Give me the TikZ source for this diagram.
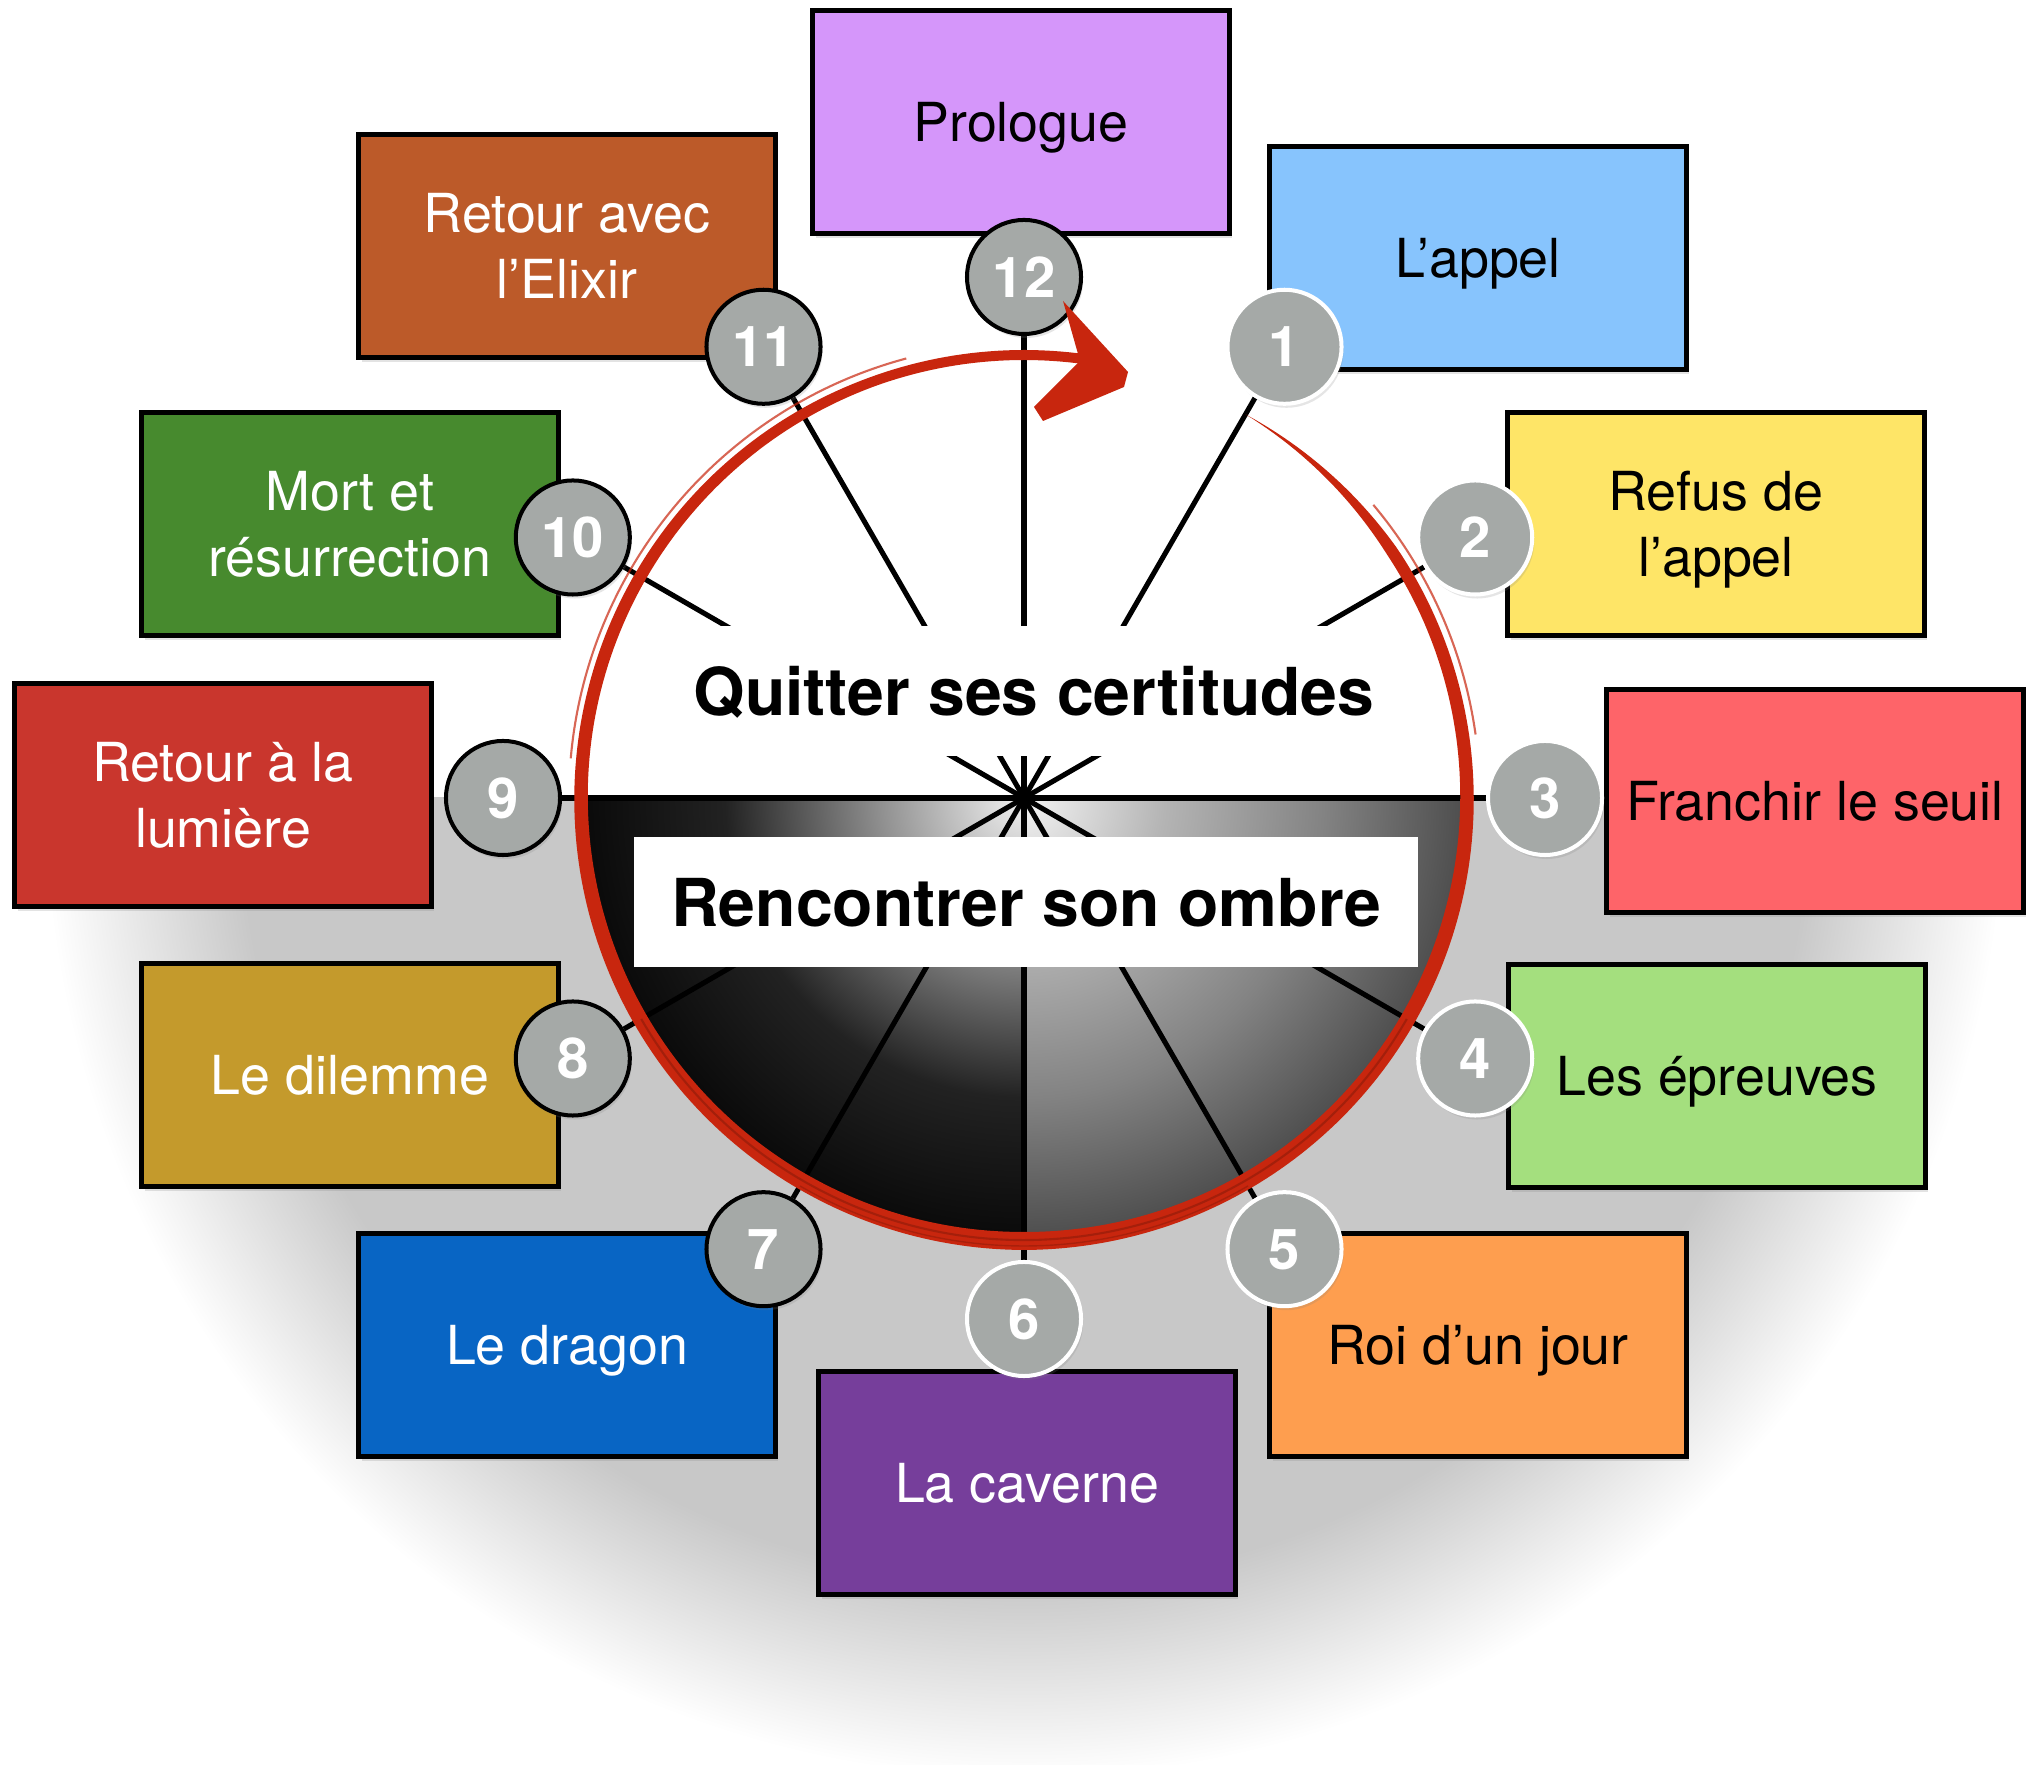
\documentclass[tikz,border=0pt]{standalone}
\usepackage{fontspec}
\setmainfont{TeX Gyre Heros}
\usetikzlibrary{shadows}
\definecolor{cProl}{HTML}{D596FA}
\definecolor{cAppel}{HTML}{87C4FD}
\definecolor{cRefus}{HTML}{FEE567}
\definecolor{cFran}{HTML}{FE6469}
\definecolor{cEpr}{HTML}{A4DF7E}
\definecolor{cRoi}{HTML}{FE9E4F}
\definecolor{cCav}{HTML}{763E9B}
\definecolor{cDrag}{HTML}{0865C4}
\definecolor{cDil}{HTML}{C49A2C}
\definecolor{cLum}{HTML}{C9362D}
\definecolor{cMort}{HTML}{478A2E}
\definecolor{cElix}{HTML}{BC5A29}
\definecolor{bgray}{HTML}{A5A9A7}
\definecolor{redc}{HTML}{C8260E}
\definecolor{bggray}{HTML}{C8C8C8}
\definecolor{lqa}{HTML}{F2F2F2}
\definecolor{lqb}{HTML}{929292}
\definecolor{lqc}{HTML}{222222}
\definecolor{lqd}{HTML}{0A0A0A}
\definecolor{rqa}{HTML}{F4F4F4}
\definecolor{rqb}{HTML}{B4B4B4}
\definecolor{rqc}{HTML}{838383}
\definecolor{rqd}{HTML}{4E4E4E}
\pgfdeclareradialshading{bgshade}{\pgfpoint{0bp}{0bp}}{color(0bp)=(bggray); color(20bp)=(bggray); color(25bp)=(white); color(50bp)=(white)}
\pgfdeclareradialshading{leftq}{\pgfpoint{0bp}{0bp}}{color(0bp)=(lqa); color(8bp)=(lqb); color(17bp)=(lqc); color(25bp)=(lqd); color(50bp)=(lqd)}
\pgfdeclareradialshading{rightq}{\pgfpoint{0bp}{0bp}}{color(0bp)=(rqa); color(8bp)=(rqb); color(17bp)=(rqc); color(25bp)=(rqd); color(50bp)=(rqd)}
\pgfdeclarelayer{Lzero}
\pgfdeclarelayer{Lone}
\pgfdeclarelayer{Ltwo}
\pgfdeclarelayer{Ltop}
\pgfsetlayers{Lzero,Lone,Ltwo,main,Ltop}
\begin{document}
\begin{tikzpicture}[x=0.01cm,y=0.01cm,
  box/.style={draw=black, line width=1.42pt, minimum width=4.16cm, minimum height=2.22cm,
    inner sep=0pt, align=center, text depth=0pt, font=\fontsize{15.3}{18.8}\selectfont,
    drop shadow={shadow xshift=0.03cm, shadow yshift=-0.05cm, opacity=0.22}},
  badge/.style={circle, fill=bgray, line width=1.14pt, minimum size=1.14cm, inner sep=0pt,
    text=white, text depth=0pt, font=\fontsize{16}{16}\selectfont\bfseries,
    drop shadow={shadow xshift=0.02cm, shadow yshift=-0.04cm, opacity=0.2}},
  spoke/.style={line width=1.45pt, black},
  bigtext/.style={font=\fontsize{18.8}{22}\selectfont\bfseries, fill=white, inner sep=0pt, text depth=0pt},
  declare function={wf(\t)=min((60-\t)*0.45, 10+8*max(0,1-abs(\t+90)/160));}
]
\useasboundingbox (0,0) rectangle (2040,1764);
\coordinate (C) at (1024,966);

\begin{pgfonlayer}{Lzero}
  \fill[white] (0,0) rectangle (2040,1764);
  \begin{scope}
    \clip (0,0) rectangle (2040,966);
    \shade[shading=bgshade] (C) circle (980);
  \end{scope}
  \begin{scope}
    \clip (C) -- ++(-440,0) arc[start angle=180, end angle=270, radius=440] -- cycle;
    \shade[shading=leftq] (C) circle (440);
  \end{scope}
  \begin{scope}
    \clip (C) -- ++(0,-440) arc[start angle=270, end angle=360, radius=440] -- cycle;
    \shade[shading=rightq] (C) circle (440);
  \end{scope}
\end{pgfonlayer}

% boxes
\node[box, fill=cProl]  (prol) at (1021,1642) {Prologue};
\node[box, fill=cAppel] (appel) at (1478,1506) {L’appel};
\node[box, fill=cRefus] (refus) at (1716,1240) {Refus de\\l’appel};
\node[box, fill=cFran]  (fran) at (1815,963) {Franchir le seuil};
\node[box, fill=cEpr]   (epr) at (1717,688) {Les épreuves};
\node[box, fill=cRoi]   (roi) at (1478,419) {Roi d’un jour};
\node[box, fill=cCav, text=white]  (cav) at (1027,281) {La caverne};
\node[box, fill=cDrag, text=white] (drag) at (567,419) {Le dragon};
\node[box, fill=cDil, text=white]  (dil) at (350,689) {Le dilemme};
\node[box, fill=cLum, text=white]  (lum) at (223,969) {Retour à la\\lumière};
\node[box, fill=cMort, text=white] (mort) at (350,1240) {Mort et\\résurrection};
\node[box, fill=cElix, text=white] (elix) at (567,1518) {Retour avec\\l’Elixir};

% badges
\foreach \k in {1,...,12}{
  \pgfmathsetmacro\ang{90-30*\k}
  \ifnum\k<7 \def\bc{white}\else\def\bc{black}\fi
  \node[badge, draw=\bc] (b\k) at ([shift={(\ang:521)}]C) {\k};
}

% spokes
\begin{pgfonlayer}{Lone}
  \foreach \k in {1,...,12}{ \draw[spoke] (C) -- (b\k); }
\end{pgfonlayer}

% labels
\begin{pgfonlayer}{Ltwo}
  \node[bigtext, minimum width=8.5cm, minimum height=1.3cm] (quit) at (1034,1073) {Quitter ses certitudes};
  \node[bigtext, minimum width=7.83cm, minimum height=1.29cm] (renc) at (1026,862) {Rencontrer son ombre};
\end{pgfonlayer}

% red brush circle with arrow
\begin{pgfonlayer}{Ltop}
  \fill[redc] plot[domain=60:-278, samples=300, variable=\t]
      ({1024+(443+0.5*wf(\t))*cos(\t)}, {966+(443+0.5*wf(\t))*sin(\t)})
    -- plot[domain=-278:60, samples=300, variable=\t]
      ({1024+(443-0.5*wf(\t))*cos(\t)}, {966+(443-0.5*wf(\t))*sin(\t)}) -- cycle;
  \draw[redc!70!black, line width=0.6pt, opacity=0.6]
    ([shift={(-30:442)}]C) arc[start angle=-30, end angle=-150, radius=442];
  \draw[redc!70!black, line width=0.4pt, opacity=0.5]
    ([shift={(-60:448)}]C) arc[start angle=-60, end angle=-120, radius=448];
  \draw[redc, line width=0.6pt, opacity=0.7]
    ([shift={(-185:455)}]C) arc[start angle=-185, end angle=-255, radius=455];
  \draw[redc, line width=0.6pt, opacity=0.7]
    ([shift={(40:456)}]C) arc[start angle=40, end angle=8, radius=456];
  \fill[redc] (1063,1463) -- (1128,1392) -- (1124,1377) -- (1043,1343)
    -- (1034,1357) -- (1080,1403) -- cycle;
\end{pgfonlayer}
\end{tikzpicture}
\end{document}
